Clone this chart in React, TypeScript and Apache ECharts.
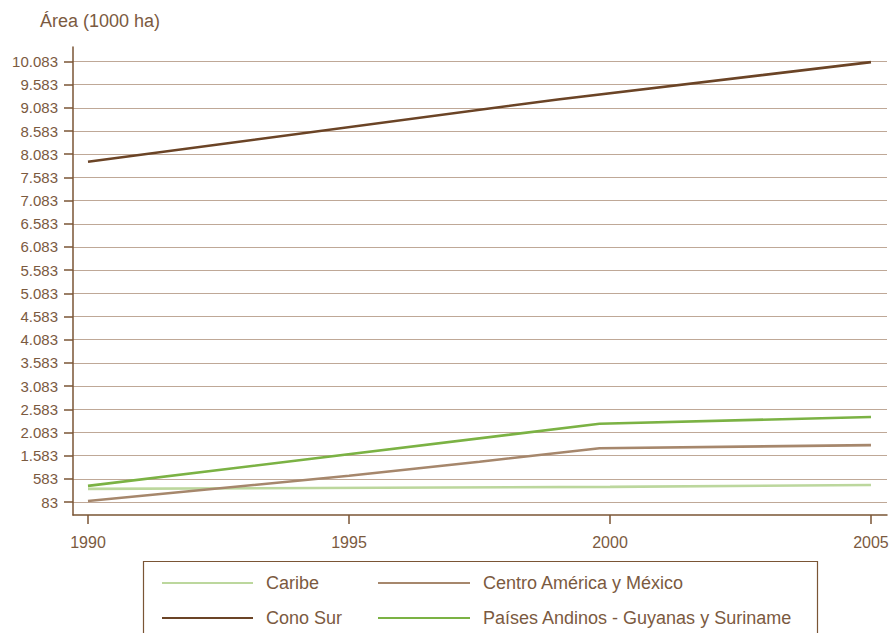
import React, { useEffect, useRef } from "react";
import * as echarts from "echarts";

// Y-axis tick values as printed on the reference (thousand ha)
const yTicks = [83, 583, 1583, 2083, 2583, 3083, 3583, 4083, 4583, 5083, 5583, 6083, 6583, 7083, 7583, 8083, 8583, 9083, 9583, 10083];
const xTicks = [1990, 1995, 2000, 2005];

const seriesNames = ["Caribe", "Centro América y México", "Cono Sur", "Países Andinos - Guyanas y Suriname"];

const caribeYears = [1990, 2000, 2005];
const caribeValues = [366, 410, 450];

const centroYears = [1990, 1995, 1997.5, 1999.8, 2005];
const centroValues = [105, 713, 1322, 1742, 1810];

const conoSurYears = [1990, 1999, 2005];
const conoSurValues = [7920, 9265, 10070];

const andinosYears = [1990, 1999.8, 2005];
const andinosValues = [431, 2271, 2416];

const colors = ["#bcd79d", "#a6876c", "#6b4426", "#7bb244"];

const TEXT = "#7b5a3f";
const AXIS = "#7a5535";
const FONT = "Liberation Sans";

function toPos(v: number): number {
  for (let i = 0; i < yTicks.length - 1; i++) {
    if (v <= yTicks[i + 1]) {
      return i + (v - yTicks[i]) / (yTicks[i + 1] - yTicks[i]);
    }
  }
  return yTicks.length - 1;
}

function fmt(v: number): string {
  const s = String(v);
  if (s.length <= 3) return s;
  return s.slice(0, s.length - 3) + "." + s.slice(s.length - 3);
}

function pairs(years: number[], values: number[]) {
  return years.map((y, i) => [y, toPos(values[i])]);
}

const xMin = 1989.713;
const xMax = 2005.307;

export default function App() {
  const ref = useRef<HTMLDivElement>(null);
  useEffect(() => {
    if (!ref.current) return;
    const chart = echarts.init(ref.current, null, { renderer: "svg" });
    const datasets = [
      pairs(caribeYears, caribeValues),
      pairs(centroYears, centroValues),
      pairs(conoSurYears, conoSurValues),
      pairs(andinosYears, andinosValues),
    ];
    const legendText = { color: TEXT, fontSize: 18, fontFamily: FONT, padding: [0, 0, 0, 8] };
    chart.setOption({
      animation: false,
      textStyle: { fontFamily: FONT },
      grid: [
        { left: 73, right: 9, top: 61.5, bottom: 131 },
        { left: 73, right: 9, top: 47, bottom: 118 },
      ],
      xAxis: [
        { gridIndex: 0, type: "value", min: xMin, max: xMax, show: false },
        {
          gridIndex: 1,
          type: "value",
          min: xMin,
          max: xMax,
          axisLine: { show: true, lineStyle: { color: AXIS, width: 1.5 } },
          axisTick: { show: true, customValues: xTicks, length: 9, lineStyle: { color: AXIS, width: 1.5 } },
          axisLabel: {
            customValues: xTicks,
            color: TEXT,
            fontSize: 16,
            fontFamily: FONT,
            margin: 19,
            formatter: (v: number) => String(Math.round(v)),
          },
          splitLine: { show: false },
        },
      ],
      yAxis: [
        {
          gridIndex: 0,
          type: "value",
          min: 0,
          max: yTicks.length - 1,
          interval: 1,
          axisLine: { show: false },
          axisTick: { show: true, inside: false, length: 9, lineStyle: { color: AXIS, width: 1.5 } },
          axisLabel: {
            color: TEXT,
            fontSize: 15,
            fontFamily: FONT,
            margin: 15,
            formatter: (v: number) => fmt(yTicks[Math.round(v)]),
          },
          splitLine: { show: true, lineStyle: { color: "#bfa897", width: 1.2 } },
        },
        {
          gridIndex: 1,
          type: "value",
          min: 0,
          max: 1,
          axisLine: { show: true, lineStyle: { color: AXIS, width: 1.5 } },
          axisTick: { show: false },
          axisLabel: { show: false },
          splitLine: { show: false },
        },
      ],
      legend: [
        {
          data: [seriesNames[0], seriesNames[2]],
          orient: "vertical",
          left: 157,
          top: 569,
          icon: "rect",
          itemWidth: 91,
          itemHeight: 2,
          itemGap: 17,
          textStyle: legendText,
        },
        {
          data: [seriesNames[1], seriesNames[3]],
          orient: "vertical",
          left: 373,
          top: 569,
          icon: "rect",
          itemWidth: 92,
          itemHeight: 2,
          itemGap: 17,
          textStyle: legendText,
        },
      ],
      graphic: [
        {
          type: "text",
          left: 40,
          top: 12,
          style: { text: "Área (1000 ha)", fill: TEXT, fontSize: 18, fontFamily: FONT },
        },
        {
          type: "rect",
          shape: { x: 143.5, y: 561.5, width: 674, height: 100 },
          style: { fill: "none", stroke: AXIS, lineWidth: 1.2 },
          silent: true,
        },
      ],
      series: seriesNames.map((name, i) => ({
        name,
        type: "line",
        xAxisIndex: 0,
        yAxisIndex: 0,
        data: datasets[i],
        showSymbol: false,
        symbol: "none",
        lineStyle: { color: colors[i], width: 2.6 },
        itemStyle: { color: colors[i] },
        z: 3,
      })),
    });
    return () => chart.dispose();
  }, []);
  return <div ref={ref} style={{ width: 896, height: 633, position: "absolute", left: 0, top: 0 }} />;
}
